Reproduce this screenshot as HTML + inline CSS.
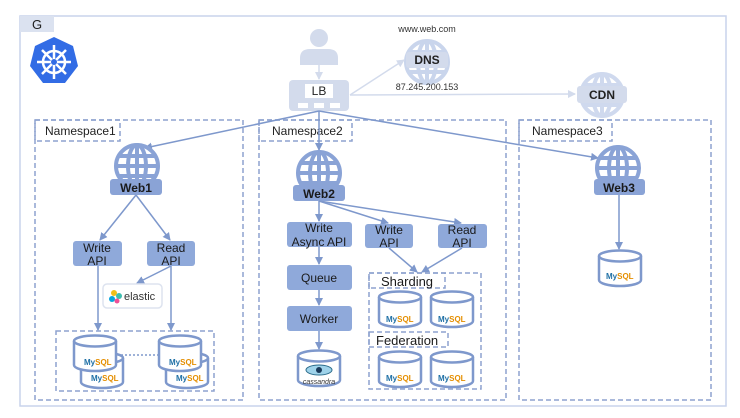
<!DOCTYPE html>
<html><head><meta charset="utf-8"><style>
html,body{margin:0;padding:0;background:#fff}
svg{display:block}
text{font-family:"Liberation Sans",sans-serif}
</style></head><body>
<svg width="740" height="418" viewBox="0 0 740 418" xmlns="http://www.w3.org/2000/svg">
<defs>
<marker id="a" markerWidth="8" markerHeight="8" refX="7" refY="4" orient="auto" markerUnits="userSpaceOnUse"><path d="M0,0 L8,4 L0,8 z" fill="#7e98cc"/></marker>
<marker id="al" markerWidth="8" markerHeight="8" refX="7" refY="4" orient="auto" markerUnits="userSpaceOnUse"><path d="M0,0 L8,4 L0,8 z" fill="#d3dbec"/></marker>
<g id="cyl"><path d="M1,6 L1,30 A21,6 0 0 0 43,30 L43,6" fill="#fff" stroke="#7e98cc" stroke-width="2.5"/><ellipse cx="22" cy="6" rx="21" ry="5.5" fill="#fff" stroke="#7e98cc" stroke-width="2.5"/></g>
<g id="globe" fill="none" stroke="#8aa3d6" stroke-width="4"><circle r="21"/><ellipse rx="9" ry="21"/><line x1="0" y1="-21" x2="0" y2="21"/><line x1="-21" y1="0" x2="21" y2="0"/><line x1="-18" y1="-10" x2="18" y2="-10"/><line x1="-18" y1="10" x2="18" y2="10"/></g>
</defs>
<!-- outer G -->
<rect x="20" y="16" width="706" height="390" fill="none" stroke="#c9d3ec" stroke-width="1.5"/>
<rect x="20" y="16" width="34" height="16" fill="#dbe2f0"/>
<text x="37" y="29" font-size="13" text-anchor="middle" fill="#222">G</text>
<!-- k8s -->
<polygon points="54,37 73,46 78,66 65,83 43,83 30,66 35,46" fill="#326ce5"/>
<g stroke="#fff" stroke-width="2.5" fill="none"><circle cx="54" cy="62" r="11"/><line x1="54" y1="45" x2="54" y2="79"/><line x1="37" y1="62" x2="71" y2="62"/><line x1="42" y1="50" x2="66" y2="74"/><line x1="66" y1="50" x2="42" y2="74"/></g>
<circle cx="54" cy="62" r="3" fill="#326ce5"/>
<!-- user -->
<circle cx="319" cy="38" r="9" fill="#d3dbec"/>
<path d="M300,65 L300,58 Q300,49 310,49 L328,49 Q338,49 338,58 L338,65 z" fill="#d3dbec"/>
<line x1="319" y1="65" x2="319" y2="79" stroke="#d3dbec" stroke-width="1.5" marker-end="url(#al)"/>
<!-- LB -->
<rect x="289" y="80" width="60" height="31" rx="4" fill="#d3dbec"/>
<rect x="305" y="84" width="28" height="14" fill="#fff"/>
<text x="319" y="95" font-size="12" text-anchor="middle" fill="#222">LB</text>
<g fill="#fff"><rect x="298" y="103" width="10" height="5"/><rect x="314" y="103" width="10" height="5"/><rect x="330" y="103" width="10" height="5"/></g>
<!-- DNS -->
<text x="427" y="32" font-size="9" text-anchor="middle" fill="#333">www.web.com</text>
<g transform="translate(427,62)" opacity="0.45"><use href="#globe"/></g>
<rect x="406" y="52" width="42" height="16" rx="3" fill="#d3dbec"/>
<text x="427" y="64" font-size="12" font-weight="bold" text-anchor="middle" fill="#222">DNS</text>
<text x="427" y="90" font-size="9" text-anchor="middle" fill="#333">87.245.200.153</text>
<line x1="350" y1="95" x2="404" y2="60" stroke="#d3dbec" stroke-width="1.5" marker-end="url(#al)"/>
<!-- CDN -->
<g transform="translate(602,95)" opacity="0.4"><use href="#globe"/></g>
<rect x="577" y="86" width="50" height="17" rx="3" fill="#d3dbec"/>
<text x="602" y="99" font-size="12" font-weight="bold" text-anchor="middle" fill="#222">CDN</text>
<line x1="350" y1="95" x2="575" y2="94" stroke="#d3dbec" stroke-width="1.5" marker-end="url(#al)"/>
<!-- namespaces -->
<g fill="none" stroke="#8da2cf" stroke-width="1.5" stroke-dasharray="5,3">
<rect x="35" y="120" width="208" height="280"/><rect x="35" y="120" width="85" height="21"/>
<rect x="259" y="120" width="247" height="280"/><rect x="259" y="120" width="93" height="21"/>
<rect x="519" y="120" width="192" height="280"/><rect x="519" y="120" width="93" height="21"/>
<rect x="56" y="331" width="158" height="60"/>
<rect x="369" y="273" width="112" height="116"/><rect x="369" y="273" width="76" height="15"/><rect x="369" y="332" width="79" height="15"/>
</g>
<g font-size="12" fill="#222"><text x="45" y="135">Namespace1</text><text x="272" y="135">Namespace2</text><text x="532" y="135">Namespace3</text></g>
<!-- LB arrows -->
<g stroke="#7e98cc" stroke-width="1.5" fill="none" marker-end="url(#a)">
<line x1="319" y1="111" x2="145" y2="148"/>
<line x1="319" y1="111" x2="319" y2="150"/>
<line x1="319" y1="111" x2="598" y2="158"/>
</g>
<!-- webs -->
<g transform="translate(137,166)"><use href="#globe"/></g>
<rect x="110" y="179" width="52" height="16" rx="3" fill="#8aa3d6"/><text x="136" y="192" font-size="12" font-weight="bold" text-anchor="middle" fill="#1a1a1a">Web1</text>
<g transform="translate(319,173)"><use href="#globe"/></g>
<rect x="293" y="185" width="52" height="16" rx="3" fill="#8aa3d6"/><text x="319" y="198" font-size="12" font-weight="bold" text-anchor="middle" fill="#1a1a1a">Web2</text>
<g transform="translate(618,168)"><use href="#globe"/></g>
<rect x="594" y="179" width="51" height="16" rx="3" fill="#8aa3d6"/><text x="619" y="192" font-size="12" font-weight="bold" text-anchor="middle" fill="#1a1a1a">Web3</text>
<!-- connectors -->
<g stroke="#7e98cc" stroke-width="1.5" fill="none" marker-end="url(#a)">
<line x1="136" y1="195" x2="100" y2="240"/><line x1="136" y1="195" x2="170" y2="240"/>
<line x1="171" y1="266" x2="137" y2="283"/>
<line x1="98" y1="266" x2="98" y2="330"/><line x1="171" y1="266" x2="171" y2="330"/>
<line x1="319" y1="201" x2="319" y2="221"/><line x1="319" y1="201" x2="388" y2="223"/><line x1="319" y1="201" x2="461" y2="223"/>
<line x1="389" y1="248" x2="417" y2="272"/><line x1="462" y1="248" x2="422" y2="272"/>
<line x1="319" y1="247" x2="319" y2="264"/><line x1="319" y1="290" x2="319" y2="305"/><line x1="319" y1="331" x2="319" y2="349"/>
<line x1="619" y1="195" x2="619" y2="249"/>
</g>
<!-- api boxes -->
<g fill="#8fa9da">
<rect x="73" y="241" width="49" height="25" rx="3"/><rect x="147" y="241" width="48" height="25" rx="3"/>
<rect x="287" y="222" width="65" height="25" rx="3"/><rect x="365" y="224" width="48" height="24" rx="3"/><rect x="438" y="224" width="49" height="24" rx="3"/>
<rect x="287" y="265" width="65" height="25" rx="3"/><rect x="287" y="306" width="65" height="25" rx="3"/>
</g>
<g font-size="12" fill="#1a1a1a" text-anchor="middle">
<text x="97" y="252">Write</text><text x="97" y="265">API</text>
<text x="171" y="252">Read</text><text x="171" y="265">API</text>
<text x="319" y="232">Write</text><text x="319" y="246">Async API</text>
<text x="389" y="234">Write</text><text x="389" y="247">API</text>
<text x="462" y="234">Read</text><text x="462" y="247">API</text>
<text x="319" y="282">Queue</text><text x="319" y="323">Worker</text>
</g>
<!-- elastic -->
<rect x="103" y="284" width="59" height="24" rx="4" fill="#fff" stroke="#dde3ef" stroke-width="1.5"/>
<circle cx="114" cy="293" r="3" fill="#f0bf1a"/><circle cx="119" cy="296" r="3" fill="#3ebeb0"/><circle cx="112" cy="299" r="3" fill="#07a5de"/><circle cx="117" cy="301" r="2.5" fill="#ee5097"/>
<text x="124" y="300" font-size="11" fill="#333">elastic</text>
<!-- mysql left -->
<line x1="121" y1="355" x2="160" y2="355" stroke="#7e98cc" stroke-width="1.5" stroke-dasharray="2,2"/>
<use href="#cyl" x="80" y="352"/><use href="#cyl" x="73" y="335"/>
<use href="#cyl" x="165" y="352"/><use href="#cyl" x="158" y="335"/>
<!-- ns2 dbs -->
<use href="#cyl" x="378" y="291"/><use href="#cyl" x="430" y="291"/>
<use href="#cyl" x="378" y="351"/><use href="#cyl" x="430" y="351"/>
<use href="#cyl" x="297" y="350"/>
<use href="#cyl" x="598" y="250"/>
<g font-size="8" font-weight="bold">
<text x="84" y="365" fill="#1e6fa5">My<tspan fill="#e48e00">SQL</tspan></text><text x="91" y="381" fill="#1e6fa5">My<tspan fill="#e48e00">SQL</tspan></text>
<text x="169" y="365" fill="#1e6fa5">My<tspan fill="#e48e00">SQL</tspan></text><text x="176" y="381" fill="#1e6fa5">My<tspan fill="#e48e00">SQL</tspan></text>
<text x="386" y="322" fill="#1e6fa5">My<tspan fill="#e48e00">SQL</tspan></text><text x="438" y="322" fill="#1e6fa5">My<tspan fill="#e48e00">SQL</tspan></text>
<text x="386" y="381" fill="#1e6fa5">My<tspan fill="#e48e00">SQL</tspan></text><text x="438" y="381" fill="#1e6fa5">My<tspan fill="#e48e00">SQL</tspan></text>
<text x="606" y="279" fill="#1e6fa5">My<tspan fill="#e48e00">SQL</tspan></text>
</g>
<ellipse cx="319" cy="370" rx="13" ry="5" fill="#9fd3ea" stroke="#2a6b8a" stroke-width="1"/><circle cx="319" cy="370" r="3" fill="#1a3a5a"/>
<text x="319" y="384" font-size="7" font-style="italic" text-anchor="middle" fill="#333">cassandra</text>
<g font-size="13" fill="#1a1a1a"><text x="381" y="286">Sharding</text><text x="376" y="345">Federation</text></g>
</svg>
</body></html>
